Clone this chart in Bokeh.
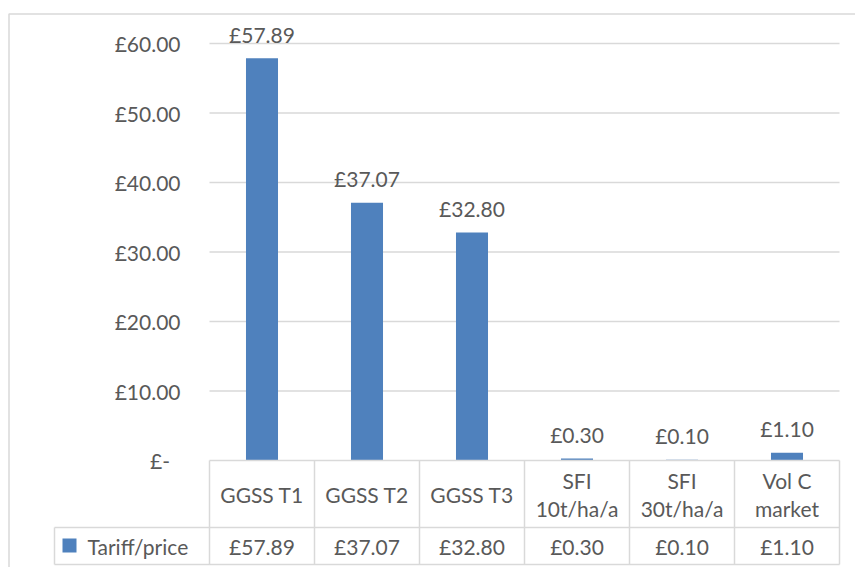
from bokeh.plotting import figure
from bokeh.models import Range1d
from bokeh.embed import file_html
from bokeh.resources import INLINE
from bokeh.core.properties import value

# ---- data ----
categories = ["GGSS T1", "GGSS T2", "GGSS T3", "SFI\n10t/ha/a", "SFI\n30t/ha/a", "Vol C\nmarket"]
prices = [57.89, 37.07, 32.80, 0.30, 0.10, 1.10]
series_name = "Tariff/price"
y_ticks = [0, 10, 20, 30, 40, 50, 60]
y_tick_labels = ["£-\u2002", "£10.00", "£20.00", "£30.00", "£40.00", "£50.00", "£60.00"]

# ---- styling / layout ----
W, H = 855, 567
FONT = value("Lato")
FS = "21px"
TEXT = "#595959"
LINE = "#d9d9d9"
BLUE = "#4f81bd"

COL_W = 105.0        # pixels per category column
X0_PX = 209.0        # left edge of the first category column
ZERO_PX = 460.0      # pixel row of the value 0
PX_PER_UNIT = 6.95   # pixels per £1

n = len(categories)
idx = list(range(n))
x_start = -0.5 - X0_PX / COL_W
x_end = x_start + W / COL_W
y_start = -(H - ZERO_PX) / PX_PER_UNIT
y_end = ZERO_PX / PX_PER_UNIT


def xpx(px):
    return x_start + px / COL_W


def ypx(py):
    return (ZERO_PX - py) / PX_PER_UNIT


p = figure(width=W, height=H, x_range=Range1d(x_start, x_end), y_range=Range1d(y_start, y_end),
           toolbar_location=None, output_backend="svg", min_border=0,
           x_axis_location=None, y_axis_location=None, outline_line_color=None,
           background_fill_color="white", border_fill_color="white")
p.xgrid.visible = False
p.ygrid.visible = False

# chart border (left and top edges)
p.line([xpx(8.5), xpx(8.5), xpx(W + 5)], [ypx(H + 5), ypx(13.5), ypx(13.5)],
       line_color=LINE, line_width=1.5)

# horizontal gridlines
grid_vals = y_ticks[1:]
p.segment(x0=[-0.5] * len(grid_vals), x1=[n - 0.5] * len(grid_vals), y0=grid_vals, y1=grid_vals,
          line_color=LINE, line_width=1.5)

# y tick labels
p.text(x=[xpx(180)] * len(y_ticks), y=y_ticks, text=y_tick_labels, text_font=FONT,
       text_font_size=FS, text_color=TEXT, text_align="right", text_baseline="middle")

# bars
p.vbar(x=idx, top=prices, bottom=0, width=0.305, fill_color=BLUE, line_color=None)

# data labels
price_labels = ["£%.2f" % v for v in prices]
p.text(x=idx, y=prices, text=price_labels, text_font=FONT, text_font_size=FS, text_color=TEXT,
       text_align="center", text_baseline="middle", y_offset=-24)

# ---- data table under the plot ----
row_top = 0.0
row_mid = ypx(527)
row_bot = ypx(564)
legend_left = xpx(54)

p.segment(x0=[-0.5, legend_left, legend_left], x1=[n - 0.5] * 3,
          y0=[row_top, row_mid, row_bot], y1=[row_top, row_mid, row_bot],
          line_color=LINE, line_width=1.5)
vx = [k - 0.5 for k in range(n + 1)]
p.segment(x0=vx + [legend_left], x1=vx + [legend_left],
          y0=[row_top] * (n + 1) + [row_mid], y1=[row_bot] * (n + 2),
          line_color=LINE, line_width=1.5)

# category names (one or two lines)
cat_center = ypx(494)
line_step = 28.0 / PX_PER_UNIT
cx, cy, ct = [], [], []
for i, c in enumerate(categories):
    parts = c.split("\n")
    k = len(parts)
    for j, part in enumerate(parts):
        cx.append(i)
        cy.append(cat_center + ((k - 1) / 2 - j) * line_step)
        ct.append(part)
p.text(x=cx, y=cy, text=ct, text_font=FONT, text_font_size=FS, text_color=TEXT,
       text_align="center", text_baseline="middle")

# value row
val_y = ypx(546)
p.text(x=idx, y=[val_y] * n, text=price_labels, text_font=FONT, text_font_size=FS,
       text_color=TEXT, text_align="center", text_baseline="middle")

# legend key
p.rect(x=[xpx(69)], y=[ypx(545)], width=14, height=14, width_units="screen", height_units="screen",
       fill_color=BLUE, line_color=None)
p.text(x=[xpx(87)], y=[val_y], text=[series_name], text_font=FONT, text_font_size=FS,
       text_color=TEXT, text_align="left", text_baseline="middle")

open("out.html", "w").write(file_html(p, INLINE))
